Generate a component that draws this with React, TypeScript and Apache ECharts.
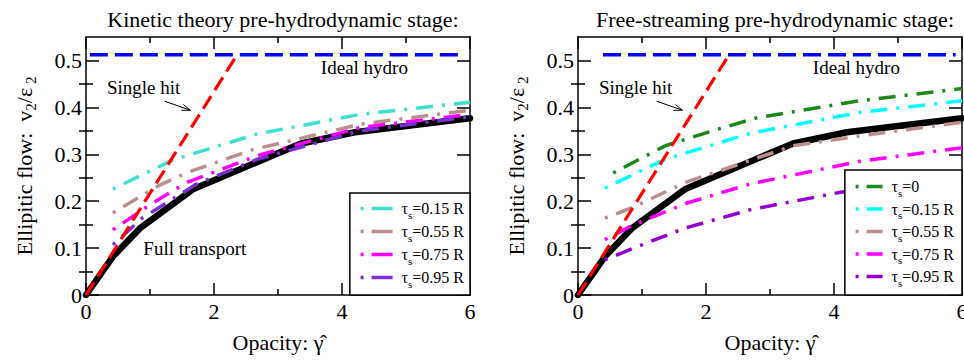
import React, { useEffect, useRef } from "react";
import * as echarts from "echarts";

const FONT = "'Liberation Serif', 'Times New Roman', serif";

// ---- axis ticks ----
const xTickValues = [0, 2, 4, 6];
const yTickValues = [0, 0.1, 0.2, 0.3, 0.4, 0.5];
const yMinorTickValues = [0.05, 0.15, 0.25, 0.35, 0.45];

// ---- shared curves ----
const idealHydroKinetic = [[0.06, 0.512], [5.9, 0.512]];
const idealHydroFree = [[0.39, 0.512], [5.9, 0.512]];
const singleHit = [[0, 0], [2.36, 0.512]];
const fullTransport = [[0, 0], [0.42, 0.082], [0.84, 0.142], [1.68, 0.226], [3.36, 0.323], [4.2, 0.347], [6, 0.377]];

// ---- left panel: kinetic theory pre-hydro stage ----
const kinTau015 = [[0.42, 0.226], [1.36, 0.288], [2.67, 0.343], [4.28, 0.385], [6, 0.411]];
const kinTau055 = [[0.42, 0.175], [1.12, 0.232], [1.56, 0.26], [2.61, 0.31], [4.28, 0.364], [6, 0.394]];
const kinTau075 = [[0.42, 0.139], [1.04, 0.196], [1.56, 0.239], [2.7, 0.298], [4.28, 0.357], [6, 0.385]];
const kinTau095 = [[0.42, 0.107], [0.88, 0.164], [1.72, 0.236], [2.67, 0.289], [4.28, 0.35], [6, 0.38]];

// ---- right panel: free-streaming pre-hydro stage ----
const fsTau0 = [[0.55, 0.26], [1.36, 0.318], [2.1, 0.35], [2.8, 0.378], [4.4, 0.414], [6, 0.44]];
const fsTau015 = [[0.42, 0.228], [1.36, 0.289], [2.7, 0.345], [4.4, 0.389], [6, 0.414]];
const fsTau055 = [[0.42, 0.164], [0.84, 0.186], [1.68, 0.24], [2.8, 0.292], [3.36, 0.318], [4.4, 0.339], [6, 0.368]];
const fsTau075 = [[0.42, 0.118], [0.84, 0.148], [1.68, 0.195], [2.7, 0.237], [4.4, 0.285], [6, 0.314]];
const fsTau095 = [[0.42, 0.075], [1.0, 0.107], [1.68, 0.143], [2.7, 0.182], [4.1, 0.219], [6, 0.25]];

// ---- legend labels ----
const kineticTauLabels = ["0.15 R", "0.55 R", "0.75 R", "0.95 R"];
const freeTauLabels = ["0", "0.15 R", "0.55 R", "0.75 R", "0.95 R"];

// ---- titles / annotations ----
const panelTitles = ["Kinetic theory pre-hydrodynamic stage:", "Free-streaming pre-hydrodynamic stage:"];
const idealHydroLabelPos = [4.35, 0.486];
const singleHitLabelPos = [0.9, 0.443];
const singleHitArrow = [[1.23, 0.413], [1.63, 0.394]];
const fullTransportLabelPos = [1.7, 0.1];

const DASHDOT = [3, 9, 17, 9];

function dd(color: string) {
  return { color, width: 3.5, type: DASHDOT, cap: "butt" };
}

function buildSeries(g: number) {
  const xi = g * 2;
  const yi = g * 4;
  const base = { type: "line", xAxisIndex: xi, yAxisIndex: yi, symbol: "none", showSymbol: false, silent: true };
  const list: any[] = [
    { ...base, name: `${g}-full`, data: fullTransport, z: 3, lineStyle: { color: "#000", width: 6.5, join: "round", cap: "round" } },
  ];
  if (g === 0) {
    const colors = ["#40e0d0", "#bc8f8f", "#ff00ff", "#7a2fd0"];
    const datas = [kinTau015, kinTau055, kinTau075, kinTau095];
    kineticTauLabels.forEach((l, i) =>
      list.push({ ...base, name: `K|${l}`, data: datas[i], z: 4, lineStyle: dd(colors[i]) })
    );
  } else {
    const colors = ["#1b8a1b", "#00ffff", "#bc8f8f", "#ff00ff", "#9400d3"];
    const datas = [fsTau0, fsTau015, fsTau055, fsTau075, fsTau095];
    freeTauLabels.forEach((l, i) =>
      list.push({ ...base, name: `F|${l}`, data: datas[i], z: 4, lineStyle: dd(colors[i]) })
    );
  }
  list.push({ ...base, name: `${g}-single`, data: singleHit, z: 5, lineStyle: { color: "#ff0000", width: 3.2, type: [15, 7] } });
  list.push({ ...base, name: `${g}-ideal`, data: g === 0 ? idealHydroKinetic : idealHydroFree, z: 5, lineStyle: { color: "#0000ff", width: 3.5, type: [18, 7] } });
  return list;
}

const AXIS_LINE = { show: true, onZero: false, lineStyle: { color: "#000", width: 1.5 } };

function xAxes(g: number) {
  const common = {
    type: "value", gridIndex: g, min: 0, max: 6, interval: 2,
    axisLine: AXIS_LINE, splitLine: { show: false },
    axisTick: { show: true, inside: true, length: 12, lineStyle: { color: "#000", width: 1.5 } },
    minorTick: { show: true, splitNumber: 2, length: 6, lineStyle: { color: "#000", width: 1.5 } },
  };
  return [
    { ...common, position: "bottom", axisLabel: { show: true, color: "#000", fontFamily: FONT, fontSize: 22, margin: 5, customValues: xTickValues } },
    { ...common, position: "top", axisLabel: { show: false } },
  ];
}

function yAxes(g: number) {
  const common = { type: "value", gridIndex: g, min: 0, max: 0.55, splitLine: { show: false } };
  const tick = (vals: number[], len: number) => ({ show: true, inside: true, length: len, customValues: vals, lineStyle: { color: "#000", width: 1.5 } });
  return [
    {
      ...common, position: "left", axisLine: AXIS_LINE, axisTick: tick(yTickValues, 13),
      axisLabel: { show: true, customValues: yTickValues, color: "#000", fontFamily: FONT, fontSize: 22, margin: 4, formatter: (v: number) => (v === 0 ? "0" : v.toFixed(1)) },
    },
    { ...common, position: "left", axisLine: { show: false }, axisTick: tick(yMinorTickValues, 7), axisLabel: { show: false } },
    { ...common, position: "right", axisLine: AXIS_LINE, axisTick: tick(yTickValues, 13), axisLabel: { show: false } },
    { ...common, position: "right", axisLine: { show: false }, axisTick: tick(yMinorTickValues, 7), axisLabel: { show: false } },
  ];
}

const legendRich = {
  t: { fontFamily: FONT, fontSize: 16, lineHeight: 20, color: "#000" },
  s: { fontFamily: FONT, fontSize: 11, lineHeight: 20, color: "#000", padding: [12, 0, 0, 0] },
};

function legend(g: number) {
  const labels = g === 0 ? kineticTauLabels : freeTauLabels;
  const prefix = g === 0 ? "K|" : "F|";
  return {
    show: true,
    orient: "vertical",
    right: g === 0 ? 494 : 2,
    bottom: 65,
    data: labels.map((l) => prefix + l),
    selectedMode: false,
    backgroundColor: "#fff",
    borderColor: "#000",
    borderWidth: 1.5,
    borderRadius: 0,
    padding: g === 0 ? [4, 6, 6, 9] : [5, 8, 7, 9],
    itemGap: g === 0 ? 0 : -0.5,
    itemWidth: g === 0 ? 32 : 27,
    itemHeight: 14,
    itemStyle: { opacity: 0 },
    lineStyle: { type: g === 0 ? [3, 8, 21, 100] : [3, 8, 16, 100], width: 3.5, cap: "butt" },
    formatter: (name: string) => `{t| τ}{s|s}{t|=${name.split("|")[1]}}`,
    textStyle: { rich: legendRich, fontFamily: FONT, fontSize: 16, color: "#000" },
    z: 10,
  };
}

const GRID = [
  { left: 86, top: 37, width: 384, height: 258 },
  { left: 578, top: 37, width: 384, height: 258 },
];

export default function App() {
  const ref = useRef<HTMLDivElement>(null);
  useEffect(() => {
    document.body.style.margin = "0";
    const chart = echarts.init(ref.current!, null, { renderer: "svg" });
    const option: any = {
      animation: false,
      backgroundColor: "#fff",
      title: panelTitles.map((t, g) => ({
        text: t,
        left: GRID[g].left + GRID[g].width / 2,
        top: 3,
        textAlign: "center",
        textStyle: { fontFamily: FONT, fontSize: 22, fontWeight: "normal", color: "#000" },
      })),
      grid: GRID.map((gr) => ({ ...gr, containLabel: false, outerBoundsMode: "none" })),
      xAxis: [...xAxes(0), ...xAxes(1)],
      yAxis: [...yAxes(0), ...yAxes(1)],
      legend: [legend(0), legend(1)],
      series: [...buildSeries(0), ...buildSeries(1)],
    };
    chart.setOption(option);

    const px = (g: number, pt: number[]) => chart.convertToPixel({ xAxisIndex: g * 2, yAxisIndex: g * 4 }, pt) as number[];
    const textStyle = (text: string, size: number, align = "center") => ({
      text, fill: "#000", fontFamily: FONT, fontSize: size, align, verticalAlign: "middle",
    });
    const graphics: any[] = [];
    [0, 1].forEach((g) => {
      const gr = GRID[g];
      const cx = gr.left + gr.width / 2;
      const cy = gr.top + gr.height / 2;
      const ih = px(g, idealHydroLabelPos);
      graphics.push({ type: "text", x: ih[0], y: ih[1], style: textStyle("Ideal hydro", 19), z: 20 });
      const sh = px(g, singleHitLabelPos);
      graphics.push({ type: "text", x: sh[0], y: sh[1], style: textStyle("Single hit", 19), z: 20 });
      const a = px(g, singleHitArrow[0]);
      const b = px(g, singleHitArrow[1]);
      graphics.push({ type: "line", shape: { x1: a[0], y1: a[1], x2: b[0], y2: b[1] }, style: { stroke: "#000", lineWidth: 1 }, z: 20 });
      const ang = Math.atan2(b[1] - a[1], b[0] - a[0]);
      const hl = 9, sp = 0.35;
      graphics.push({
        type: "polyline",
        shape: { points: [[b[0] - hl * Math.cos(ang - sp), b[1] - hl * Math.sin(ang - sp)], [b[0], b[1]], [b[0] - hl * Math.cos(ang + sp), b[1] - hl * Math.sin(ang + sp)]] },
        style: { stroke: "#000", lineWidth: 1, fill: null }, z: 20,
      });
      if (g === 0) {
        const ft = px(g, fullTransportLabelPos);
        graphics.push({ type: "text", x: ft[0], y: ft[1], style: textStyle("Full transport", 19), z: 20 });
      }
      // x axis title
      graphics.push({ type: "text", x: cx, y: 342, style: textStyle("Opacity: γ\u0302", 22), z: 20 });
      // y axis title
      graphics.push({
        type: "text", x: gr.left - 62, y: cy, rotation: Math.PI / 2, z: 20,
        style: {
          text: "{t|Ellipitic flow:  v}{s|2}{t|/ε}{s| 2}",
          align: "center", verticalAlign: "middle", fill: "#000",
          rich: {
            t: { fontFamily: FONT, fontSize: 22, lineHeight: 26, fill: "#000" },
            s: { fontFamily: FONT, fontSize: 15, lineHeight: 26, fill: "#000", padding: [14, 0, 0, 0] },
          },
        },
      });
    });
    chart.setOption({ graphic: graphics });
    return () => chart.dispose();
  }, []);
  return <div ref={ref} style={{ width: 964, height: 360 }} />;
}
